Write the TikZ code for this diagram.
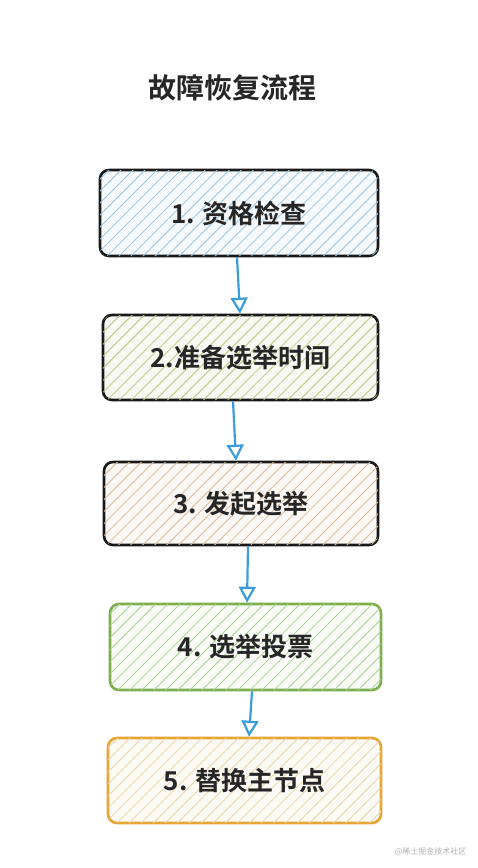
\documentclass[tikz,border=0pt]{standalone}
\usepackage{fontspec}
\newfontfamily\cjk{Noto Sans CJK SC}[BoldFont={Noto Sans CJK SC Bold}]
\usetikzlibrary{patterns.meta,arrows.meta}
\definecolor{hblue}{HTML}{9CC6E2}
\definecolor{holive}{HTML}{BCC684}
\definecolor{hbeige}{HTML}{D8BC9C}
\definecolor{hgreen}{HTML}{A8D094}
\definecolor{hsand}{HTML}{EAD6AA}
\definecolor{bgreen}{HTML}{7DAF4E}
\definecolor{bgold}{HTML}{E6A634}
\definecolor{arrblue}{HTML}{3A9EDC}
\tikzset{
  stepbox/.style={draw=black!90, line width=2.6pt, rounded corners=9pt,
    inner sep=0pt, font=\cjk\bfseries\fontsize{26}{30}\selectfont, text=black!85},
  hatch/.style={postaction={pattern={Lines[angle=45,distance=8.5pt,line width=0.8pt]}, pattern color=#1}},
  arr/.style={draw=arrblue, line width=2.2pt, -{Triangle[open,length=16pt,width=17pt,line width=2.2pt]}},
}
\begin{document}
\begin{tikzpicture}[x=1pt,y=-1pt]
\useasboundingbox[fill=white] (0,0) rectangle (477,868);
\node[font=\cjk\bfseries\fontsize{28}{32}\selectfont, text=black!85] (title) at (232,88) {故障恢复流程};
\node[stepbox, fill=hblue!8, hatch=hblue, minimum width=278pt, minimum height=86pt] (b1) at (239,213) {1. 资格检查};
\node[stepbox, fill=holive!10, hatch=holive, minimum width=275pt, minimum height=85pt] (b2) at (240.5,357.5) {2.准备选举时间};
\node[stepbox, fill=hbeige!10, hatch=hbeige, minimum width=274pt, minimum height=83pt] (b3) at (241,503.5) {3. 发起选举};
\node[stepbox, draw=bgreen, fill=hgreen!8, hatch=hgreen, minimum width=271pt, minimum height=86pt] (b4) at (245.5,647) {4. 选举投票};
\node[stepbox, draw=bgold, fill=hsand!12, hatch=hsand, minimum width=273pt, minimum height=85pt] (b5) at (244.5,780.5) {5. 替换主节点};
\draw[arr] ([xshift=-2pt]b1.south) -- ([xshift=-0.5pt]b2.north);
\draw[arr] ([xshift=-7.5pt]b2.south) -- ([xshift=-5pt]b3.north);
\draw[arr] ([xshift=7pt]b3.south) -- ([xshift=1.5pt]b4.north);
\draw[arr] ([xshift=6.5pt]b4.south) -- ([xshift=4.5pt]b5.north);
\node[font=\cjk\fontsize{8}{9}\selectfont, text=black!30, anchor=east] (wm) at (470,852) {@稀土掘金技术社区};
\end{tikzpicture}
\end{document}
